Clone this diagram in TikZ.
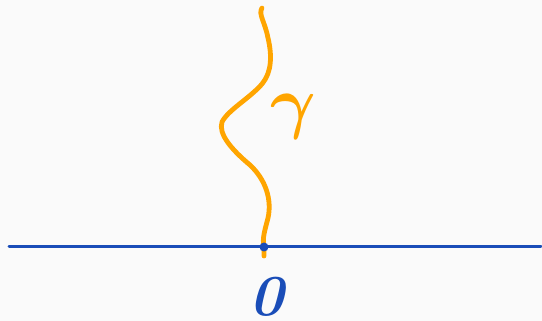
\documentclass[tikz,border=0pt]{standalone}
\usepackage{amsmath}
\definecolor{bg}{HTML}{FAFAFA}
\definecolor{hblue}{HTML}{1A4DB8}
\definecolor{horange}{HTML}{FFA500}
\tikzset{
  axisline/.style={draw=hblue, line width=3pt, line cap=round},
  curveline/.style={draw=horange, line width=4.8pt, line cap=round, line join=round},
  lbl/.style={inner sep=0pt}
}
\begin{document}
\begin{tikzpicture}[x=1pt,y=-1pt]
\fill[bg] (0,0) rectangle (542,321);
\useasboundingbox (0,0) rectangle (542,321);
\coordinate (L) at (9,247);
\coordinate (R) at (541,247);
\coordinate (O) at (264,247);
\coordinate (T) at (262,8);
\draw[axisline] (L) -- (R);
\draw[curveline] (T) .. controls (258,14) and (265,22) .. (268,38)
  .. controls (272,55) and (272,72) .. (262,84)
  .. controls (250,98) and (228,110) .. (222,122)
  .. controls (218,134) and (232,150) .. (250,165)
  .. controls (266,180) and (272,200) .. (268,218)
  .. controls (265,230) and (262,238) .. (O) -- (264,256);
\fill[hblue] (O) circle (4.5);
\node[lbl, text=horange, scale=7] (g) at (293,117) {$\boldsymbol{\gamma}$};
\node[lbl, text=hblue, scale=5.8] (z) at (267,297) {\bfseries\itshape 0};
\end{tikzpicture}
\end{document}
